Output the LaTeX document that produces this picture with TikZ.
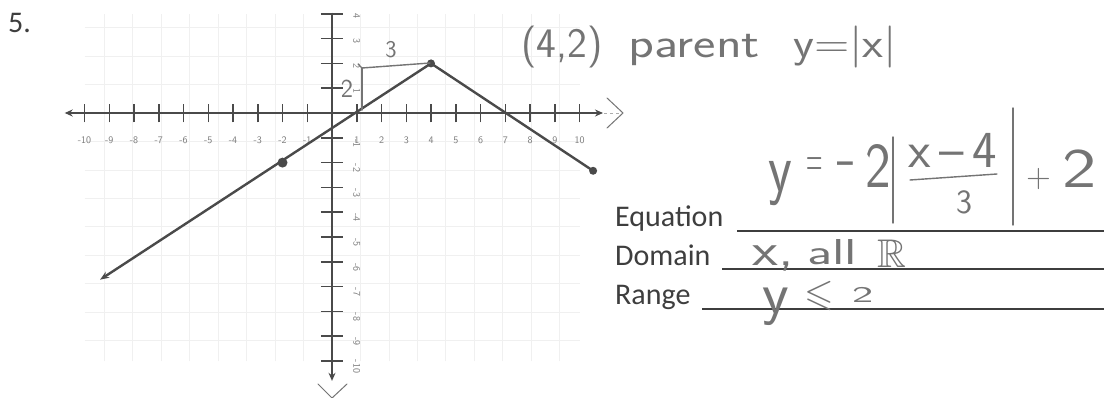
\documentclass[tikz,border=0pt]{standalone}
\usepackage{fontspec}
\usepackage{amssymb}
\usetikzlibrary{arrows.meta}
\newfontfamily\printed{Carlito}
\definecolor{ink}{HTML}{3E3E3E}
\definecolor{pencil}{HTML}{747474}
\definecolor{axisc}{HTML}{4A4A4A}
\definecolor{gridc}{HTML}{F0F0F0}
\definecolor{labc}{HTML}{7A7A7A}
\newcommand\hw[1]{\sffamily\fontsize{#1}{#1}\selectfont}
\begin{document}
\begin{tikzpicture}[x=1pt,y=-1pt,
  printedtext/.style={font=\printed\fontsize{30}{36}\selectfont, text=ink, inner sep=0pt, anchor=base west},
  hand/.style={text=pencil, inner sep=0pt},
  handline/.style={draw=pencil, line width=1.4pt, line cap=round, line join=round},
  ticklab/.style={font=\sffamily\fontsize{10}{12}\selectfont, text=labc, inner sep=0pt},
  axisline/.style={draw=axisc, line width=2.8pt},
  tickline/.style={draw=axisc, line width=1.5pt},
  graphline/.style={draw=axisc, line width=2.4pt},
  ruleline/.style={draw=ink, line width=1.2pt},
]
\useasboundingbox[fill=white] (0,0) rectangle (1104,398);

% ---------- graph ----------
\begin{scope}[shift={(332,113)}, x=24.75pt, y=24.8pt]
  \draw[gridc, line width=0.8pt] (-10,-10) grid (10,4);
  % axes
  \draw[axisline, {Stealth[length=8pt,width=7pt]}-{Stealth[length=8pt,width=7pt]}] (-10.8,0) -- (10.95,0);
  \draw[axisline, -{Stealth[length=8pt,width=7pt]}] (0,4.05) -- (0,-10.8);
  \foreach \i in {-10,...,-1,1,2,...,10}{
    \draw[tickline] (\i,-0.38) -- (\i,0.38);
    \node[ticklab] (xl\i) at (\i,-1.1) {\i};
  }
  \foreach \j in {-10,...,-1,1,2,3,4}{
    \draw[tickline] (-0.45,\j) -- (0.45,\j);
  }
  \foreach \j in {1,2,3,4}{
    \node[ticklab, rotate=-90] (yl\j) at (1.0,\j-0.1) {\j};
  }
  \foreach \j in {-10,...,-1}{
    \node[ticklab, rotate=-90] (yl\j) at (1.0,\j-0.22) {\j};
  }
  % graph of the function
  \draw[graphline, line join=round, {Stealth[length=9pt,width=7pt]}-] (-9.37,-6.72) -- (4,2) -- (10.55,-2.33);
  \fill[axisc] (4,2) circle[radius=4pt];
  \fill[axisc] (-2,-2) circle[radius=5pt];
  \fill[axisc] (10.55,-2.33) circle[radius=4pt];
\end{scope}

% handwritten marks on the graph
\draw[handline] (358,64) -- (362,68) -- (430,63);
\draw[handline] (362,68) -- (362,110);
\draw[handline, line width=1pt] (607,98) -- (623,113) -- (607,128);
\draw[pencil!60, line width=0.8pt, dashed] (604,113) -- (622,113);
\draw[handline, line width=1pt] (318,384) -- (332,398) -- (347,384);
\node[hand, font=\hw{24}, anchor=center] (lab3) at (391,50) {3};
\node[hand, font=\hw{26}, anchor=center] (lab2) at (347,89) {2};

% ---------- printed text ----------
\node[printedtext] (num5) at (8,33) {5.};
\node[printedtext] (eqlab) at (615,227) {Equation};
\node[printedtext] (domlab) at (615,266) {Domain};
\node[printedtext] (ranlab) at (615,305) {Range};
\draw[ruleline] (737,231) -- (1104,231);
\draw[ruleline] (722,269) -- (1104,269);
\draw[ruleline] (702,309) -- (1104,309);

% ---------- handwriting: (4,2) parent y=|x| ----------
\node[hand, anchor=base west, font=\hw{42}] (par42) at (521,58) {(4,2)};
\node[hand, anchor=base west, font=\hw{42}] (parword) at (628,58) {\scalebox{1.27}[1]{parent}};
\node[hand, anchor=base west, font=\hw{42}] (paryx) at (793,58) {\scalebox{1.15}[1]{y=|x|}};

% ---------- handwriting: equation ----------
\node[hand, anchor=base west, font=\hw{50}] (eqy) at (768,192) {\scalebox{1.1}[1.4]{y}};
\node[hand, anchor=center, font=\hw{56}] (eqeq) at (815,168) {\scalebox{0.4}[1]{=}};
\node[hand, anchor=center, font=\hw{56}] (eqmin) at (845,170) {\scalebox{0.6}[1]{\textendash}};
\node[hand, anchor=base west, font=\hw{64}] (eqtwo) at (865,188) {\scalebox{0.85}[1]{2}};
\draw[handline] (893,137) -- (893,223);
\node[hand, anchor=base, font=\hw{52}] (eqnum) at (953,168) {x\,\textendash\,4};
\draw[handline] (910,180) -- (997,174);
\node[hand, anchor=base, font=\hw{34}] (eqden) at (964,214) {3};
\draw[handline] (1013,108) -- (1013,225);
\node[hand, anchor=center, font=\hw{34}] (eqplus) at (1039,179) {+};
\node[hand, anchor=base west, font=\hw{56}] (eqplustwo) at (1062,188) {\scalebox{1.3}[1]{2}};

% ---------- handwriting: domain ----------
\node[hand, anchor=base west, font=\hw{46}] (domx) at (752,266) {\scalebox{1.3}[1]{x,}};
\node[hand, anchor=base west, font=\hw{36}] (domall) at (807,265) {\scalebox{1.55}[1]{all}};
\node[hand, anchor=base west, font=\hw{40}] (domR) at (877,268) {$\mathbb{R}$};

% ---------- handwriting: range ----------
\node[hand, anchor=base west, font=\hw{44}] (rany) at (762,313) {\scalebox{1.4}[1.35]{y}};
\node[hand, anchor=base west, font=\hw{38}] (ranle) at (804,306) {$\leqslant$};
\node[hand, anchor=base west, font=\hw{30}] (rantwo) at (852,303) {\scalebox{1.5}[0.75]{2}};
\end{tikzpicture}
\end{document}
